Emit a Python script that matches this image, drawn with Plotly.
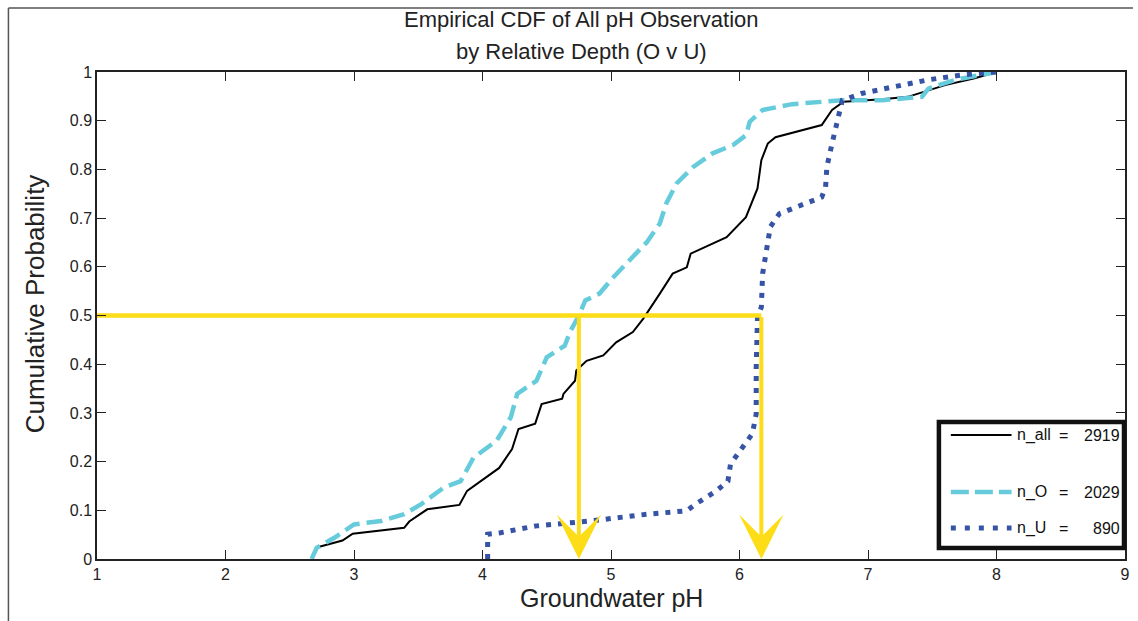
import plotly.graph_objects as go

# Empirical CDF curves of groundwater pH
all_ph = [2.73, 2.91, 2.99, 3.39, 3.43, 3.57, 3.82, 3.88, 4.13, 4.23, 4.28, 4.41, 4.46, 4.62,
          4.63, 4.72, 4.73, 4.81, 4.94, 5.04, 5.17, 5.25, 5.38, 5.48, 5.59, 5.62, 5.90, 6.05,
          6.14, 6.17, 6.22, 6.28, 6.64, 6.72, 6.81, 7.11, 7.31, 7.44, 7.60, 7.83, 8.00]
all_cdf = [0.025, 0.038, 0.052, 0.064, 0.077, 0.102, 0.111, 0.140, 0.187, 0.226, 0.267, 0.278,
           0.318, 0.329, 0.339, 0.366, 0.387, 0.407, 0.418, 0.445, 0.466, 0.493, 0.545, 0.586,
           0.599, 0.627, 0.661, 0.702, 0.761, 0.819, 0.853, 0.866, 0.891, 0.922, 0.939, 0.944,
           0.949, 0.960, 0.973, 0.987, 1.000]

o_ph = [2.67, 2.71, 2.85, 3.00, 3.21, 3.39, 3.52, 3.70, 3.83, 3.93, 4.11, 4.22, 4.27, 4.42,
        4.50, 4.64, 4.68, 4.75, 4.80, 4.91, 5.02, 5.12, 5.28, 5.38, 5.43, 5.51, 5.64, 5.79,
        5.95, 6.05, 6.08, 6.18, 6.41, 6.80, 7.11, 7.42, 7.47, 7.68, 8.00]
o_cdf = [0.000, 0.023, 0.044, 0.071, 0.078, 0.092, 0.112, 0.147, 0.160, 0.208, 0.243, 0.291,
         0.339, 0.366, 0.414, 0.438, 0.466, 0.500, 0.531, 0.545, 0.579, 0.606, 0.651, 0.689,
         0.730, 0.771, 0.805, 0.833, 0.850, 0.870, 0.898, 0.922, 0.934, 0.942, 0.942, 0.949,
         0.966, 0.984, 1.000]

u_ph = [4.04, 4.04, 4.14, 4.42, 4.84, 5.28, 5.59, 5.66, 5.82, 5.91, 5.93, 6.00, 6.10, 6.13,
        6.13, 6.14, 6.17, 6.18, 6.22, 6.24, 6.31, 6.52, 6.64, 6.67, 6.68, 6.72, 6.76, 6.80,
        6.95, 7.21, 7.47, 7.73, 8.00]
u_cdf = [0.000, 0.051, 0.054, 0.068, 0.078, 0.092, 0.099, 0.113, 0.140, 0.160, 0.195, 0.222,
         0.257, 0.298, 0.394, 0.497, 0.517, 0.586, 0.641, 0.682, 0.709, 0.730, 0.743, 0.764,
         0.805, 0.853, 0.898, 0.942, 0.956, 0.969, 0.984, 0.994, 1.000]

# Medians read at probability 0.5
median_prob = 0.5
median_o = 4.75
median_u = 6.17

series_names = ["n_all", "n_O", "n_U"]
series_counts = ["2919", "2029", "890"]

x_ticks = [1, 2, 3, 4, 5, 6, 7, 8, 9]
y_ticks = [0, 0.1, 0.2, 0.3, 0.4, 0.5, 0.6, 0.7, 0.8, 0.9, 1]

W, H = 1138, 621
ML, MR, MT, MB = 97, 8, 72, 62
PW, PH = W - ML - MR, H - MT - MB


def px(xp):
    return (xp - ML) / PW


def py(yp):
    return (H - MB - yp) / PH


BLACK = "#000000"
CYAN = "#66CCDC"
BLUE = "#3653A6"
YELLOW = "#FCDD17"
FONT = "Liberation Sans, Arial, sans-serif"

fig = go.Figure()
fig.add_trace(go.Scatter(x=all_ph, y=all_cdf, mode="lines", name=series_names[0],
                         line=dict(color=BLACK, width=2)))
fig.add_trace(go.Scatter(x=o_ph, y=o_cdf, mode="lines", name=series_names[1],
                         line=dict(color=CYAN, width=4.5, dash="16px,7px")))
fig.add_trace(go.Scatter(x=u_ph, y=u_cdf, mode="lines", name=series_names[2],
                         line=dict(color=BLUE, width=5, dash="5px,7px")))
# horizontal median guide
fig.add_trace(go.Scatter(x=[x_ticks[0], median_u], y=[median_prob, median_prob], mode="lines",
                         line=dict(color=YELLOW, width=4.5), showlegend=False))

annotations = []
# arrows dropping from the median line to the pH axis
for m in (median_o, median_u):
    annotations.append(dict(x=m, y=0, ax=m, ay=median_prob, xref="x", yref="y",
                            axref="x", ayref="y", text="", showarrow=True, arrowhead=3,
                            arrowwidth=4, arrowsize=1.85, arrowcolor=YELLOW, standoff=0))

# titles
annotations.append(dict(x=px(584), y=py(19), xref="paper", yref="paper",
                        text="Empirical CDF of All pH Observation", showarrow=False,
                        font=dict(family=FONT, size=22, color="#222"), yanchor="middle"))
annotations.append(dict(x=px(584), y=py(51), xref="paper", yref="paper",
                        text="by Relative Depth (O v U)", showarrow=False,
                        font=dict(family=FONT, size=22, color="#222"), yanchor="middle"))
annotations.append(dict(x=px(614), y=py(598), xref="paper", yref="paper",
                        text="Groundwater pH", showarrow=False,
                        font=dict(family=FONT, size=25, color="#222"), yanchor="middle"))
annotations.append(dict(x=px(35), y=py(304), xref="paper", yref="paper",
                        text="Cumulative Probability", showarrow=False, textangle=-90,
                        font=dict(family=FONT, size=26, color="#222"), xanchor="center",
                        yanchor="middle"))

shapes = []
# outer figure frame (left and top edges)
shapes.append(dict(type="line", xref="paper", yref="paper", x0=px(8), x1=px(8),
                   y0=py(8), y1=py(H), line=dict(color="#555", width=1.5)))
shapes.append(dict(type="line", xref="paper", yref="paper", x0=px(8), x1=px(W),
                   y0=py(8), y1=py(8), line=dict(color="#555", width=1.5)))

# legend box
shapes.append(dict(type="rect", xref="paper", yref="paper", x0=px(943), x1=px(1129),
                   y0=py(548), y1=py(422), fillcolor="white",
                   line=dict(color="#111", width=4.5), layer="above"))
legend_rows = [435, 492, 528]
legend_styles = [dict(color=BLACK, width=2),
                 dict(color=CYAN, width=4.5, dash="18px,6px"),
                 dict(color=BLUE, width=5, dash="5px,9px")]
for row, style, name, count in zip(legend_rows, legend_styles, series_names, series_counts):
    shapes.append(dict(type="line", xref="paper", yref="paper", x0=px(955), x1=px(1016),
                       y0=py(row), y1=py(row), line=style, layer="above"))
    annotations.append(dict(x=px(1019), y=py(row), xref="paper", yref="paper", text=name,
                            showarrow=False, xanchor="left", yanchor="middle",
                            font=dict(family=FONT, size=16, color="#111")))
    annotations.append(dict(x=px(1068), y=py(row), xref="paper", yref="paper", text="=",
                            showarrow=False, xanchor="center", yanchor="middle",
                            font=dict(family=FONT, size=16, color="#111")))
    annotations.append(dict(x=px(1127), y=py(row), xref="paper", yref="paper", text=count,
                            showarrow=False, xanchor="right", yanchor="middle",
                            font=dict(family=FONT, size=16, color="#111")))

axis_common = dict(showgrid=False, zeroline=False, showline=True, linecolor="#222",
                   linewidth=1.5, ticks="inside", ticklen=9, tickwidth=1.2,
                   tickcolor="#222", mirror="ticks",
                   tickfont=dict(family=FONT, size=16, color="#222"))

fig.update_layout(
    width=W, height=H,
    margin=dict(l=ML, r=MR, t=MT, b=MB),
    paper_bgcolor="white", plot_bgcolor="white",
    showlegend=False,
    xaxis=dict(range=[1, 9], tickvals=x_ticks, ticktext=[str(v) for v in x_ticks],
               **axis_common),
    yaxis=dict(range=[0, 1], tickvals=y_ticks,
               ticktext=["0" if v == 0 else ("1" if v == 1 else f"{v:.1f}") for v in y_ticks],
               **axis_common),
    annotations=annotations,
    shapes=shapes,
)

fig.write_html("out.html")
